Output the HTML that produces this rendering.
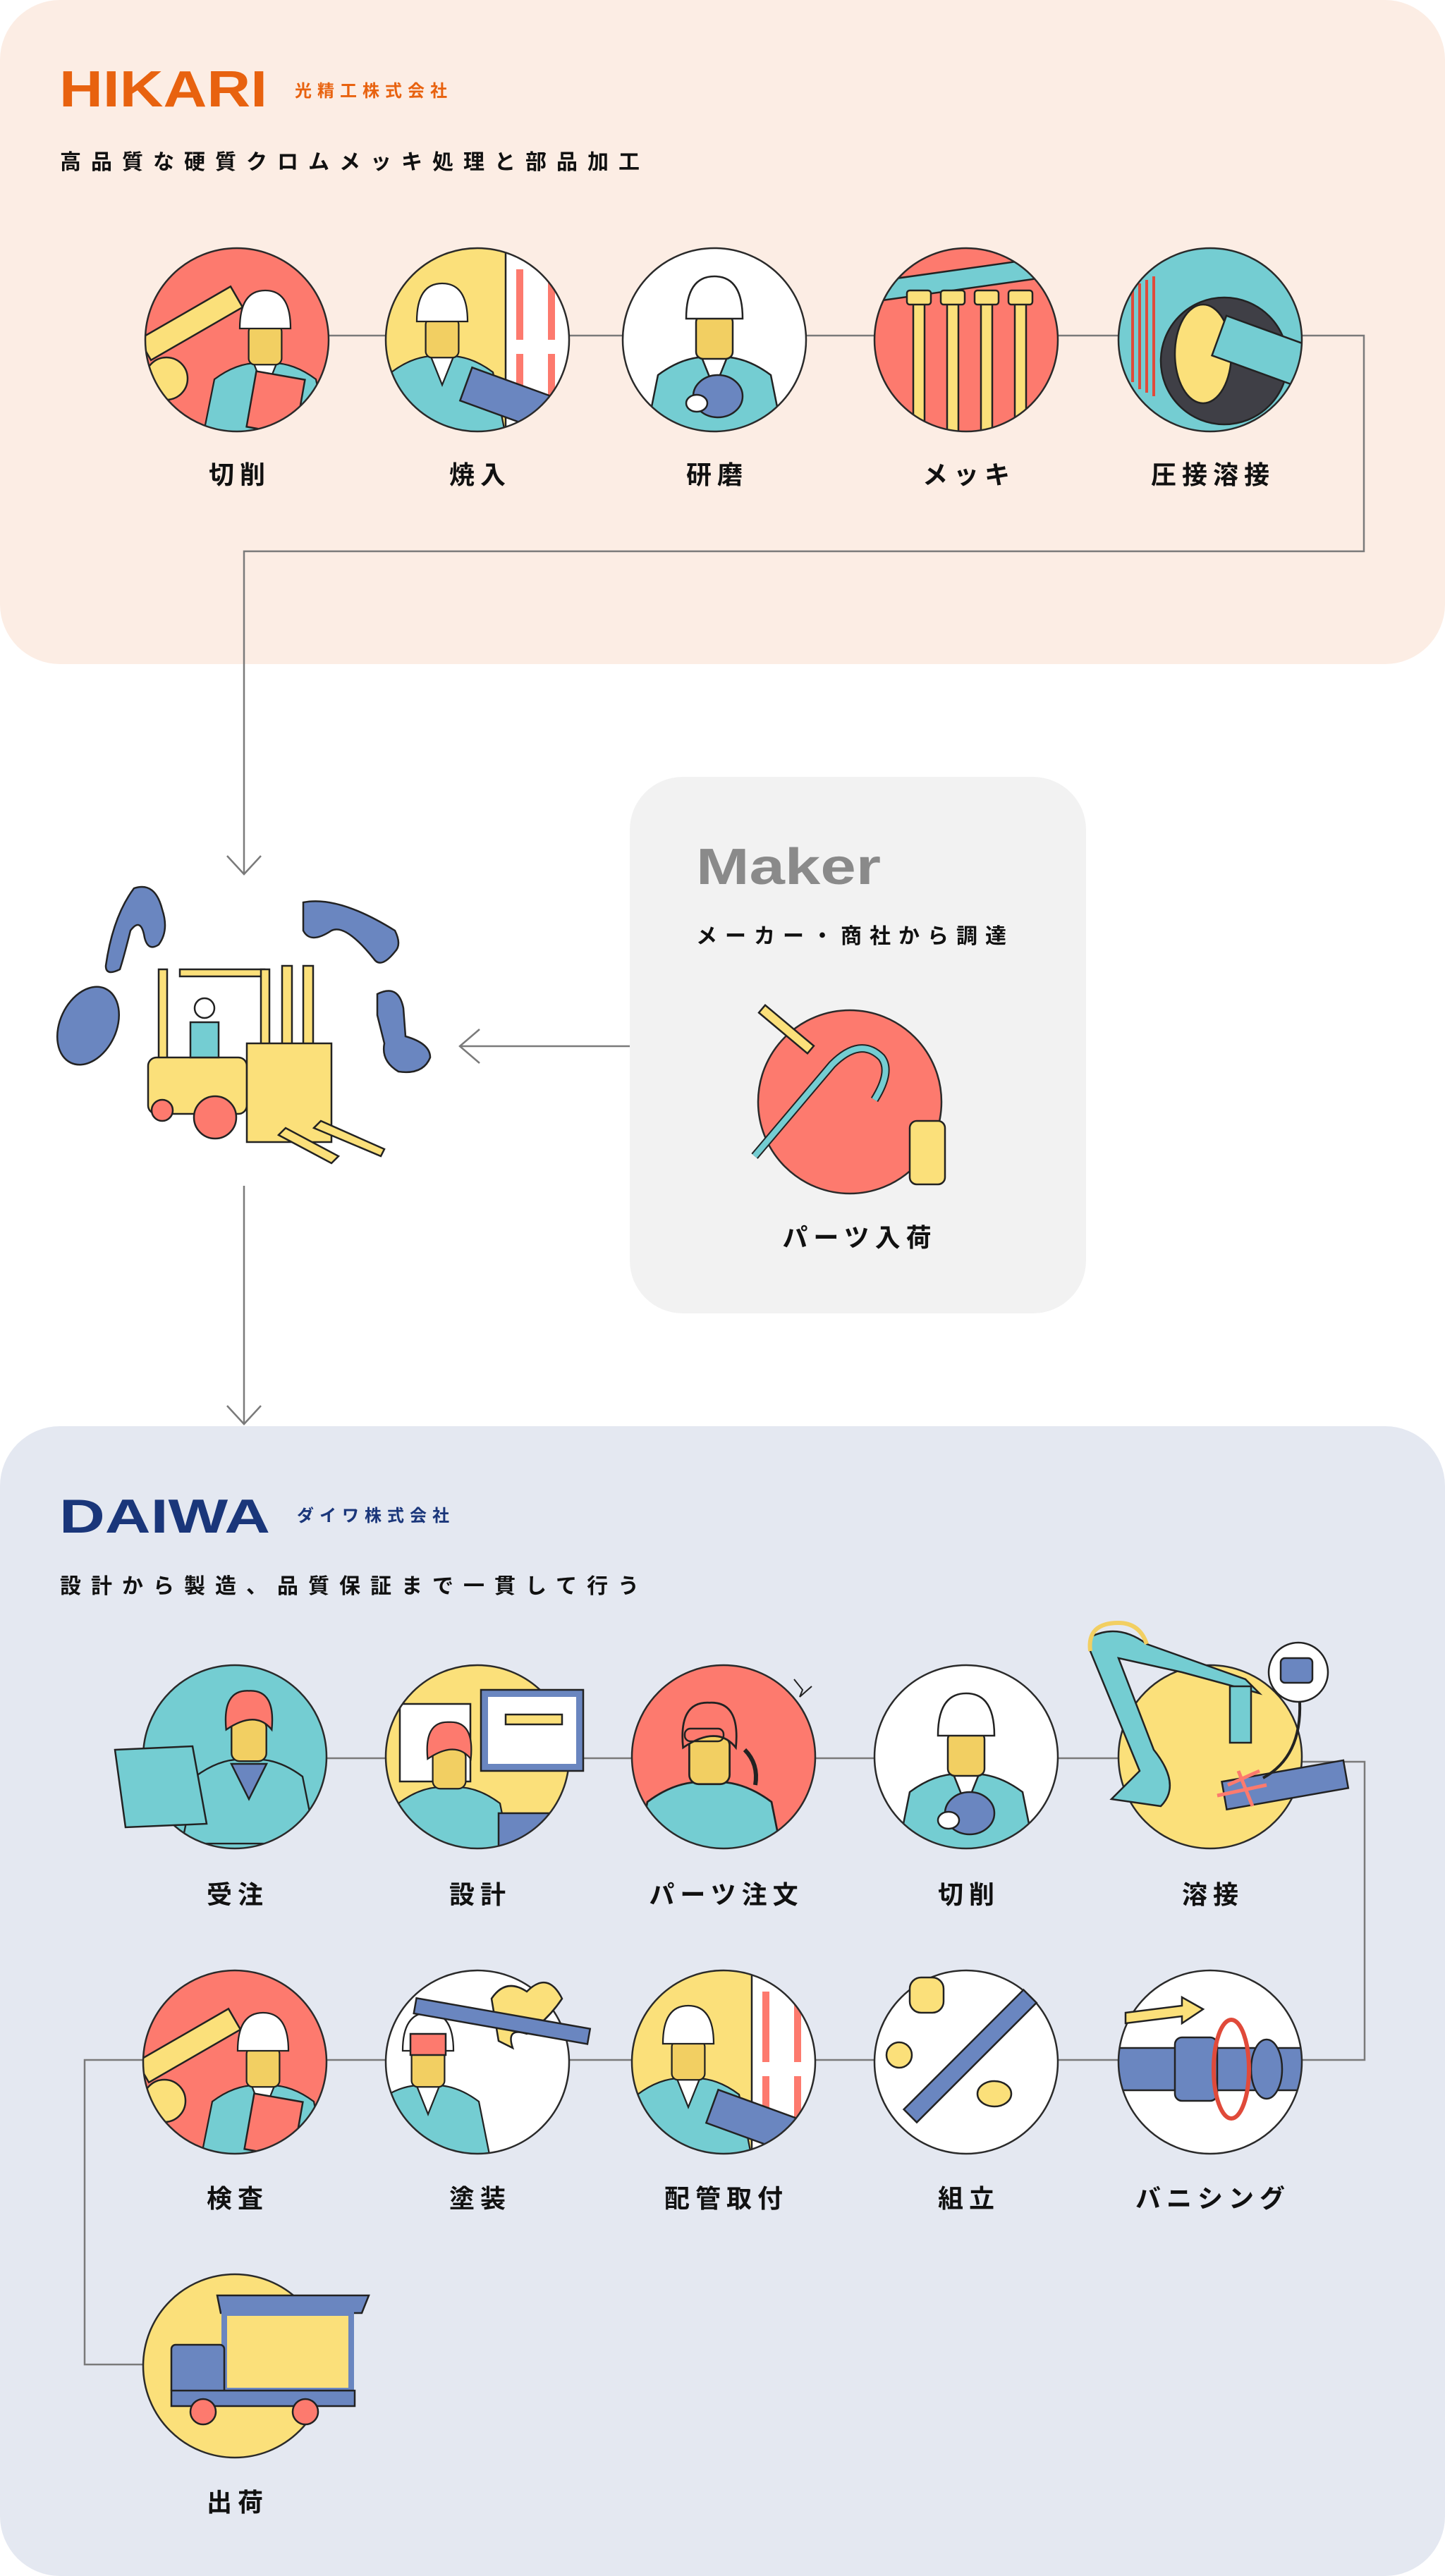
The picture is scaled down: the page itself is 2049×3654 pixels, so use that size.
<!DOCTYPE html>
<html><head><meta charset="utf-8"><style>
html,body{margin:0;padding:0;background:#fff;}
svg{display:block;}
text{font-family:"Liberation Sans","Noto Sans CJK JP",sans-serif;}
.lbl{font-size:36px;font-weight:bold;fill:#111;letter-spacing:8px;text-anchor:middle;}
.o{fill:none;stroke:#2a2a2a;stroke-width:2.5;}
.of{stroke:#2a2a2a;stroke-width:2.5;}
.ln{fill:none;stroke:#7a7a7a;stroke-width:2.5;}
.s{stroke:#222;stroke-width:2.5;}
</style></head><body>
<svg width="2049" height="3654" viewBox="0 0 2049 3654" xmlns="http://www.w3.org/2000/svg">
<defs>
<g id="worker">
  <path class="s" d="M-100 140 L-80 40 Q-40 10 0 15 Q40 10 80 40 L100 140 Z" fill="#74cdd2"/>
  <path class="s" d="M-18 15 L0 60 L18 15 Z" fill="#fff"/>
  <rect class="s" x="-26" y="-45" width="52" height="62" rx="10" fill="#f2cf62"/>
  <path class="s" d="M-40 -40 Q-40 -100 0 -100 Q40 -100 40 -40 Z" fill="#fff"/>
</g>
<g id="person">
  <path class="s" d="M-100 140 L-80 40 Q-40 10 0 15 Q40 10 80 40 L100 140 Z" fill="#74cdd2"/>
  <rect class="s" x="-26" y="-45" width="52" height="62" rx="12" fill="#f2cf62"/>
  <path class="s" d="M-34 -30 Q-40 -90 0 -88 Q40 -90 34 -30 Q10 -60 -34 -30 Z" fill="#fd7a6e"/>
</g>
<clipPath id="cc"><circle cx="0" cy="0" r="130"/></clipPath>
</defs>

<!-- HIKARI panel -->
<rect x="0" y="0" width="2049" height="942" rx="85" fill="#fcede4"/>
<text x="84" y="151" font-size="72" font-weight="bold" fill="#e8620f" textLength="295" lengthAdjust="spacingAndGlyphs">HIKARI</text>
<text x="418" y="137" font-size="24" font-weight="bold" fill="#e8620f" letter-spacing="8">光精工株式会社</text>
<text x="85" y="240" font-size="30" font-weight="bold" fill="#111" letter-spacing="14">高品質な硬質クロムメッキ処理と部品加工</text>

<polyline class="ln" points="336,476 1934,476 1934,782 346,782 346,1238"/>
<polyline class="ln" points="322,1214 346,1240 370,1214"/>

<!-- HIKARI circles -->
<g transform="translate(336,482)"><g clip-path="url(#cc)"><circle r="130" fill="#fd7a6e"/>
<rect x="-120" y="-70" width="150" height="34" fill="#fbe07a" class="s" transform="rotate(-30)"/>
<circle cx="-100" cy="55" r="30" fill="#fbe07a" class="s"/>
<use href="#worker" transform="translate(40,20) scale(0.9)"/>
<rect x="20" y="50" width="70" height="80" fill="#fd7a6e" class="s" transform="rotate(10 55 90)"/></g><circle r="130" class="o"/></g>

<g transform="translate(677,482)"><g clip-path="url(#cc)"><circle r="130" fill="#fbe07a"/>
<rect x="40" y="-130" width="100" height="260" fill="#fff" class="s"/>
<rect x="55" y="-100" width="10" height="100" fill="#fd7a6e"/><rect x="100" y="-100" width="10" height="100" fill="#fd7a6e"/>
<rect x="55" y="20" width="10" height="100" fill="#fd7a6e"/><rect x="100" y="20" width="10" height="100" fill="#fd7a6e"/>
<use href="#worker" transform="translate(-50,10) scale(0.9)"/>
<rect x="-20" y="60" width="130" height="50" fill="#6a86c0" class="s" transform="rotate(20 45 85)"/></g><circle r="130" class="o"/></g>

<g transform="translate(1013,482)"><g clip-path="url(#cc)"><circle r="130" fill="#fff"/>
<use href="#worker" transform="translate(0,10)"/>
<ellipse cx="5" cy="80" rx="35" ry="30" fill="#6a86c0" class="s"/>
<ellipse cx="-25" cy="90" rx="15" ry="12" fill="#fff" class="s"/></g><circle r="130" class="o"/></g>

<g transform="translate(1370,482)"><g clip-path="url(#cc)"><circle r="130" fill="#fd7a6e"/>
<rect x="-140" y="-100" width="280" height="28" fill="#74cdd2" class="s" transform="rotate(-8)"/>
<g fill="#fbe07a" class="s"><rect x="-75" y="-60" width="16" height="200"/><rect x="-27" y="-60" width="16" height="200"/><rect x="21" y="-60" width="16" height="200"/><rect x="69" y="-60" width="16" height="200"/>
<rect x="-84" y="-70" width="34" height="20" rx="4"/><rect x="-36" y="-70" width="34" height="20" rx="4"/><rect x="12" y="-70" width="34" height="20" rx="4"/><rect x="60" y="-70" width="34" height="20" rx="4"/></g></g><circle r="130" class="o"/></g>

<g transform="translate(1716,482)"><g clip-path="url(#cc)"><circle r="130" fill="#74cdd2"/>
<circle cx="20" cy="30" r="90" fill="#3f3f46" class="s"/>
<ellipse cx="-10" cy="20" rx="40" ry="70" fill="#fbe07a" class="s"/>
<rect x="10" y="-40" width="160" height="60" fill="#74cdd2" class="s" transform="rotate(20)"/>
<g stroke="#e04a3a" stroke-width="4"><line x1="-110" y1="-70" x2="-110" y2="60"/><line x1="-100" y1="-80" x2="-100" y2="70"/><line x1="-90" y1="-85" x2="-90" y2="75"/><line x1="-80" y1="-90" x2="-80" y2="80"/></g></g><circle r="130" class="o"/></g>

<text class="lbl" x="340" y="686">切削</text>
<text class="lbl" x="681" y="686">焼入</text>
<text class="lbl" x="1017" y="686">研磨</text>
<text class="lbl" x="1374" y="686">メッキ</text>
<text class="lbl" x="1720" y="686">圧接溶接</text>

<!-- Maker -->
<rect x="893" y="1102" width="647" height="761" rx="75" fill="#f2f2f2"/>
<text x="987" y="1254" font-size="72" font-weight="bold" fill="#8a8a8a" textLength="262" lengthAdjust="spacingAndGlyphs">Maker</text>
<text x="987" y="1338" font-size="30" font-weight="bold" fill="#111" letter-spacing="11">メーカー・商社から調達</text>
<circle cx="1205" cy="1563" r="130" fill="#fd7a6e" class="of"/>
<path d="M1070 1640 L1180 1510 Q1220 1470 1250 1500 Q1265 1520 1240 1560" fill="none" stroke="#222" stroke-width="12"/>
<path d="M1070 1640 L1180 1510 Q1220 1470 1250 1500 Q1265 1520 1240 1560" fill="none" stroke="#74cdd2" stroke-width="8"/>
<rect x="1070" y="1453" width="90" height="14" fill="#fbe07a" class="s" transform="rotate(40 1115 1460)"/>
<rect x="1290" y="1590" width="50" height="90" rx="10" fill="#fbe07a" class="s"/>
<text class="lbl" x="1219" y="1768">パーツ入荷</text>
<line class="ln" x1="893" y1="1484" x2="652" y2="1484"/>
<polyline class="ln" points="680,1460 652,1484 680,1508"/>

<!-- forklift & parts -->
<g class="s">
<path d="M150 1370 Q160 1300 190 1260 Q220 1250 230 1290 Q240 1320 225 1340 Q210 1350 205 1330 Q200 1300 185 1320 Q175 1360 170 1375 Q150 1385 150 1370 Z" fill="#6a86c0"/>
<path d="M430 1280 Q480 1270 560 1320 Q570 1340 560 1350 Q540 1375 530 1360 Q490 1310 470 1320 Q440 1340 430 1320 Z" fill="#6a86c0"/>
<ellipse cx="125" cy="1455" rx="40" ry="58" fill="#6a86c0" transform="rotate(25 125 1455)"/>
<path d="M535 1410 Q565 1395 572 1430 L575 1470 Q610 1480 610 1500 Q600 1525 565 1520 Q540 1505 545 1480 L535 1440 Z" fill="#6a86c0"/>
<rect x="255" y="1375" width="120" height="10" fill="#fbe07a"/>
<rect x="225" y="1375" width="12" height="160" fill="#fbe07a"/>
<rect x="370" y="1375" width="12" height="160" fill="#fbe07a"/>
<rect x="400" y="1370" width="14" height="200" fill="#fbe07a"/>
<rect x="430" y="1370" width="14" height="200" fill="#fbe07a"/>
<rect x="210" y="1500" width="140" height="80" rx="12" fill="#fbe07a"/>
<rect x="350" y="1480" width="120" height="140" fill="#fbe07a"/>
<circle cx="305" cy="1585" r="30" fill="#fd7a6e"/>
<circle cx="230" cy="1575" r="15" fill="#fd7a6e"/>
<rect x="270" y="1450" width="40" height="50" fill="#74cdd2"/>
<circle cx="290" cy="1430" r="14" fill="#fff"/>
<path d="M395 1610 L470 1650 L480 1640 L405 1600 Z" fill="#fbe07a"/>
<path d="M445 1600 L540 1640 L545 1630 L455 1590 Z" fill="#fbe07a"/>
</g>
<line class="ln" x1="346" y1="1682" x2="346" y2="2018"/>
<polyline class="ln" points="322,1994 346,2020 370,1994"/>

<!-- DAIWA panel -->
<rect x="0" y="2023" width="2049" height="1631" rx="85" fill="#e4e8f1"/>
<text x="84" y="2174" font-size="68" font-weight="bold" fill="#1a367a" textLength="299" lengthAdjust="spacingAndGlyphs">DAIWA</text>
<text x="421" y="2158" font-size="24" font-weight="bold" fill="#1a367a" letter-spacing="8">ダイワ株式会社</text>
<text x="85" y="2260" font-size="30" font-weight="bold" fill="#111" letter-spacing="14">設計から製造、品質保証まで一貫して行う</text>

<polyline class="ln" points="333,2494 1716,2494 1716,2499 1935,2499 1935,2922 120,2922 120,3354 333,3354"/>

<!-- Row 1 -->
<g transform="translate(333,2492)"><g clip-path="url(#cc)"><circle r="130" fill="#74cdd2"/>
<use href="#person" transform="translate(20,-10) scale(0.95)"/>
<path d="M-5 10 L20 60 L45 10 Z" fill="#6a86c0" class="s"/></g><circle r="130" class="o"/>
<path d="M-170 -10 L-60 -15 L-40 95 L-155 100 Z" fill="#74cdd2" class="s"/></g>

<g transform="translate(677,2492)"><g clip-path="url(#cc)"><circle r="130" fill="#fbe07a"/>
<rect x="-110" y="-75" width="100" height="110" fill="#fff" class="s"/>
<use href="#person" transform="translate(-40,30) scale(0.9)"/>
<rect x="30" y="80" width="120" height="60" fill="#6a86c0" class="s"/></g><circle r="130" class="o"/>
<rect x="5" y="-95" width="145" height="115" fill="#6a86c0" class="s"/><rect x="15" y="-85" width="125" height="95" fill="#fff"/>
<rect x="40" y="-60" width="80" height="14" fill="#fbe07a" class="s"/></g>

<g transform="translate(1026,2492)"><g clip-path="url(#cc)"><circle r="130" fill="#fd7a6e"/>
<use href="#person" transform="translate(-20,20) scale(1.1)"/>
<rect x="-55" y="-40" width="55" height="18" rx="8" fill="none" class="s"/>
<path d="M30 -10 Q50 10 45 40" stroke="#222" stroke-width="6" fill="none"/></g><circle r="130" class="o"/>
<path d="M100 -110 L112 -95 L108 -85 L125 -100" stroke="#222" stroke-width="2" fill="none"/></g>

<g transform="translate(1370,2492)"><g clip-path="url(#cc)"><circle r="130" fill="#fff"/>
<use href="#worker" transform="translate(0,10)"/>
<ellipse cx="5" cy="80" rx="35" ry="30" fill="#6a86c0" class="s"/>
<ellipse cx="-25" cy="90" rx="15" ry="12" fill="#fff" class="s"/></g><circle r="130" class="o"/></g>

<g transform="translate(1716,2492)"><circle r="130" fill="#fbe07a" class="of"/>
<path d="M-170 -170 Q-130 -190 -90 -160 L50 -110 L70 -90 L-40 -120 L-130 -140 L-80 -10 Q-40 40 -70 70 L-140 60 L-100 20 L-170 -150 Z" fill="#74cdd2" class="s"/>
<path d="M-170 -150 Q-175 -190 -130 -190 Q-100 -190 -90 -160" fill="none" stroke="#f2cf62" stroke-width="6"/>
<rect x="28" y="-100" width="30" height="80" fill="#74cdd2" class="s"/>
<rect x="20" y="35" width="175" height="40" fill="#6a86c0" class="s" transform="rotate(-10 20 55)"/>
<g stroke="#fd7a6e" stroke-width="5"><line x1="25" y1="40" x2="70" y2="20"/><line x1="40" y1="20" x2="60" y2="70"/><line x1="10" y1="55" x2="80" y2="40"/></g>
<circle cx="125" cy="-120" r="42" fill="#fff" class="s"/>
<rect x="100" y="-140" width="45" height="35" rx="6" fill="#6a86c0" class="s"/>
<path d="M127 -78 Q130 0 75 30" fill="none" stroke="#222" stroke-width="4"/></g>

<text class="lbl" x="337" y="2700">受注</text>
<text class="lbl" x="681" y="2700">設計</text>
<text class="lbl" x="1030" y="2700">パーツ注文</text>
<text class="lbl" x="1374" y="2700">切削</text>
<text class="lbl" x="1720" y="2700">溶接</text>

<!-- Row 2 -->
<g transform="translate(333,2925)"><g clip-path="url(#cc)"><circle r="130" fill="#fd7a6e"/>
<rect x="-120" y="-70" width="150" height="34" fill="#fbe07a" class="s" transform="rotate(-30)"/>
<circle cx="-100" cy="55" r="30" fill="#fbe07a" class="s"/>
<use href="#worker" transform="translate(40,20) scale(0.9)"/>
<rect x="20" y="50" width="70" height="80" fill="#fd7a6e" class="s" transform="rotate(10 55 90)"/></g><circle r="130" class="o"/></g>

<g transform="translate(677,2925)"><g clip-path="url(#cc)"><circle r="130" fill="#fff"/>
<use href="#worker" transform="translate(-70,20) scale(0.9)"/>
<rect x="-95" y="-40" width="50" height="30" fill="#fd7a6e" class="s"/></g><circle r="130" class="o"/>
<path d="M20 -90 Q40 -120 70 -100 Q100 -130 120 -90 Q100 -60 70 -40 Q40 -50 50 -20 L30 -30 Z" fill="#fbe07a" class="s"/>
<rect x="-90" y="-70" width="250" height="22" fill="#6a86c0" class="s" transform="rotate(10 30 -60)"/></g>

<g transform="translate(1026,2925)"><g clip-path="url(#cc)"><circle r="130" fill="#fbe07a"/>
<rect x="40" y="-130" width="100" height="260" fill="#fff" class="s"/>
<rect x="55" y="-100" width="10" height="100" fill="#fd7a6e"/><rect x="100" y="-100" width="10" height="100" fill="#fd7a6e"/>
<rect x="55" y="20" width="10" height="100" fill="#fd7a6e"/><rect x="100" y="20" width="10" height="100" fill="#fd7a6e"/>
<use href="#worker" transform="translate(-50,10) scale(0.9)"/>
<rect x="-20" y="60" width="130" height="50" fill="#6a86c0" class="s" transform="rotate(20 45 85)"/></g><circle r="130" class="o"/></g>

<g transform="translate(1370,2925)"><circle r="130" fill="#fff" class="of"/>
<rect x="-110" y="-15" width="240" height="26" fill="#6a86c0" class="s" transform="rotate(-45)"/>
<rect x="-80" y="-120" width="48" height="50" rx="16" fill="#fbe07a" class="s"/>
<circle cx="-95" cy="-10" r="18" fill="#fbe07a" class="s"/>
<ellipse cx="40" cy="45" rx="24" ry="18" fill="#fbe07a" class="s"/></g>

<g transform="translate(1716,2925)"><g clip-path="url(#cc)"><circle r="130" fill="#fff"/>
<rect x="-140" y="-20" width="300" height="60" fill="#6a86c0" class="s"/>
<rect x="-50" y="-35" width="60" height="90" rx="10" fill="#6a86c0" class="s"/>
<ellipse cx="80" cy="10" rx="22" ry="42" fill="#6a86c0" class="s"/></g><circle r="130" class="o"/>
<ellipse cx="30" cy="10" rx="25" ry="70" fill="none" stroke="#e04a3a" stroke-width="6"/>
<path d="M-120 -70 L-40 -80 L-40 -92 L-10 -75 L-40 -55 L-40 -65 L-120 -55 Z" fill="#fbe07a" class="s"/></g>

<text class="lbl" x="337" y="3131">検査</text>
<text class="lbl" x="681" y="3131">塗装</text>
<text class="lbl" x="1030" y="3131">配管取付</text>
<text class="lbl" x="1374" y="3131">組立</text>
<text class="lbl" x="1720" y="3131">バニシング</text>

<!-- Row 3 -->
<g transform="translate(333,3356)"><circle r="130" fill="#fbe07a" class="of"/>
<path d="M-25 -100 L190 -100 L180 -75 L-20 -75 Z" fill="#6a86c0" class="s"/>
<rect x="-15" y="-75" width="180" height="110" fill="#fbe07a" class="s"/>
<rect x="-15" y="-75" width="180" height="110" fill="none" stroke="#6a86c0" stroke-width="8"/>
<rect x="-90" y="-30" width="75" height="70" rx="6" fill="#6a86c0" class="s"/>
<rect x="-90" y="35" width="260" height="22" fill="#6a86c0" class="s"/>
<circle cx="-45" cy="65" r="18" fill="#fd7a6e" class="s"/>
<circle cx="100" cy="65" r="18" fill="#fd7a6e" class="s"/></g>
<text class="lbl" x="337" y="3562">出荷</text>
</svg>
</body></html>
